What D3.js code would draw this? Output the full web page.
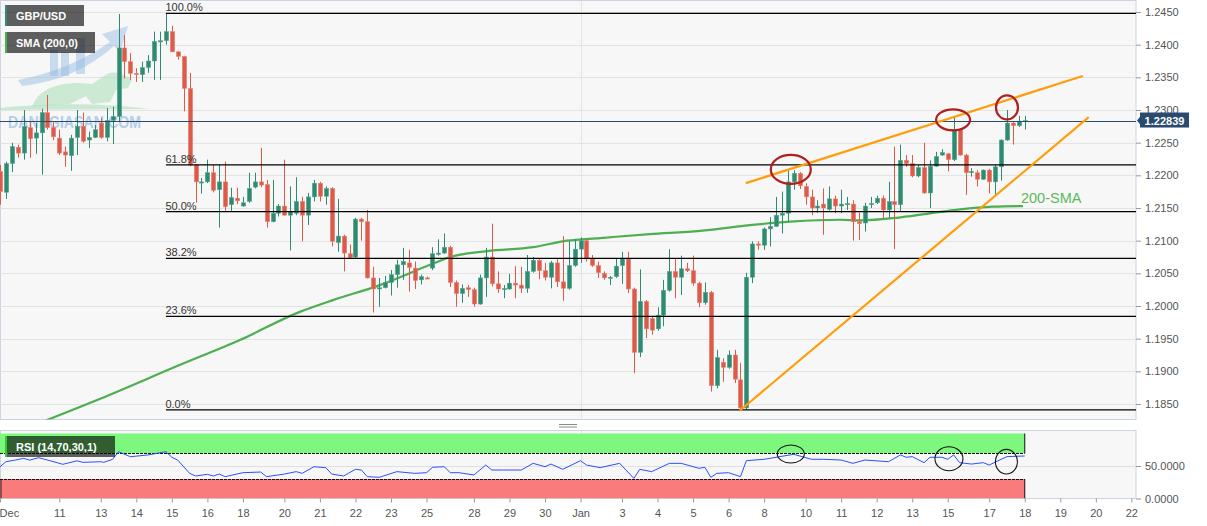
<!DOCTYPE html>
<html><head><meta charset="utf-8">
<script src="https://cdn.jsdelivr.net/npm/d3@7"></script>
<style>
html,body{margin:0;padding:0;background:#fff;}
svg{display:block;font-family:Arial,"Liberation Sans",sans-serif;}
</style></head><body>
<svg id="c" width="1207" height="526"></svg>
<script>
// ---------------- DATA ----------------
const firstIndex = -10; // candle index of first candle (4h candles, index 0 = Dec 11 tick)
const opens = [
1.2206,1.2174,1.2218,1.2243,1.2234,1.2273,1.2257,1.2265,1.2296,1.2273,
1.2257,1.2236,1.2230,1.2258,1.2275,1.2254,1.2258,1.2280,1.2258,1.2284,
1.2290,1.2395,1.2374,1.2356,1.2354,1.2365,1.2375,1.2405,1.2406,1.2420,
1.2389,1.2382,1.2333,1.2216,1.2189,1.2190,1.2204,1.2178,1.2190,1.2155,
1.2165,1.2153,1.2160,1.2182,1.2190,1.2186,1.2129,1.2142,1.2153,1.2139,
1.2142,1.2160,1.2139,1.2167,1.2188,1.2168,1.2180,1.2097,1.2107,1.2080,
1.2075,1.2133,1.2129,1.2043,1.2026,1.2028,1.2036,1.2048,1.2063,1.2066,
1.2058,1.2040,1.2043,1.2058,1.2079,1.2081,1.2090,1.2036,1.2019,1.2028,
1.2025,1.2003,1.2043,1.2075,1.2034,1.2025,1.2026,1.2035,1.2032,1.2027,
1.2053,1.2070,1.2054,1.2044,1.2066,1.2037,1.2027,1.2062,1.2087,1.2100,
1.2072,1.2062,1.2050,1.2043,1.2045,1.2062,1.2072,1.2026,1.1929,1.2007,
1.1981,1.1965,1.1986,1.2024,1.2053,1.2044,1.2057,1.2054,1.2035,1.2005,
1.2021,1.1878,1.1914,1.1906,1.1925,1.1887,1.1844,1.2044,1.2095,1.2093,
1.2118,1.2122,1.2139,1.2142,1.2190,1.2203,1.2183,1.2167,1.2150,1.2156,
1.2148,1.2164,1.2153,1.2155,1.2156,1.2129,1.2127,1.2155,1.2158,1.2165,
1.2147,1.2160,1.2155,1.2223,1.2218,1.2199,1.2212,1.2173,1.2214,1.2231,
1.2233,1.2224,1.2270,1.2231,1.2204,1.2204,1.2194,1.2208,1.2190,1.2213,
1.2254,1.2280,1.2276,1.2282];
const highs = [
1.2216,1.2221,1.2250,1.2247,1.2300,1.2283,1.2280,1.2302,1.2323,1.2282,
1.2270,1.2244,1.2262,1.2300,1.2296,1.2267,1.2277,1.2288,1.2303,1.2305,
1.2447,1.2415,1.2387,1.2364,1.2374,1.2384,1.2420,1.2420,1.2448,1.2429,
1.2390,1.2383,1.2357,1.2216,1.2196,1.2224,1.2216,1.2216,1.2221,1.2181,
1.2181,1.2167,1.2204,1.2204,1.2242,1.2193,1.2193,1.2156,1.2224,1.2183,
1.2197,1.2167,1.2173,1.2193,1.2190,1.2183,1.2182,1.2164,1.2109,1.2094,
1.2135,1.2135,1.2147,1.2060,1.2043,1.2046,1.2055,1.2071,1.2089,1.2086,
1.2068,1.2048,1.2045,1.2090,1.2102,1.2111,1.2092,1.2039,1.2033,1.2032,
1.2028,1.2048,1.2089,1.2126,1.2053,1.2032,1.2049,1.2061,1.2060,1.2078,
1.2075,1.2072,1.2066,1.2069,1.2073,1.2107,1.2099,1.2102,1.2105,1.2102,
1.2078,1.2068,1.2053,1.2046,1.2073,1.2083,1.2083,1.2028,1.2056,1.2009,
1.1983,1.1998,1.2040,1.2087,1.2072,1.2077,1.2066,1.2077,1.2037,1.2036,
1.2023,1.1933,1.1920,1.1932,1.1933,1.1913,1.2051,1.2099,1.2099,1.2120,
1.2136,1.2167,1.2175,1.2207,1.2208,1.2205,1.2188,1.2178,1.2162,1.2180,
1.2183,1.2169,1.2178,1.2167,1.2162,1.2143,1.2158,1.2167,1.2169,1.2169,
1.2190,1.2244,1.2247,1.2231,1.2231,1.2216,1.2250,1.2223,1.2236,1.2240,
1.2234,1.2289,1.2271,1.2233,1.2211,1.2208,1.2209,1.2210,1.2216,1.2255,
1.2300,1.2282,1.2291,1.2291];
const lows = [
1.2155,1.2164,1.2205,1.2227,1.2224,1.2227,1.2233,1.2201,1.2270,1.2254,
1.2231,1.2213,1.2207,1.2231,1.2250,1.2242,1.2257,1.2256,1.2252,1.2248,
1.2282,1.2348,1.2346,1.2343,1.2343,1.2357,1.2346,1.2346,1.2400,1.2389,
1.2377,1.2298,1.2214,1.2158,1.2172,1.2188,1.2174,1.2120,1.2146,1.2145,
1.2156,1.2152,1.2158,1.2180,1.2182,1.2120,1.2128,1.2137,1.2138,1.2085,
1.2139,1.2099,1.2124,1.2160,1.2160,1.2155,1.2091,1.2083,1.2053,1.2073,
1.2073,1.2100,1.2042,1.1990,1.1999,1.2027,1.2016,1.2028,1.2040,1.2022,
1.2026,1.2033,1.2042,1.2055,1.2077,1.2080,1.2029,1.1999,1.2005,1.2014,
1.1999,1.2002,1.2014,1.2030,1.2020,1.2012,1.2025,1.2012,1.2020,1.2020,
1.2051,1.2041,1.2039,1.2027,1.2029,1.2008,1.2025,1.2060,1.2066,1.2068,
1.2060,1.2043,1.2040,1.2032,1.2043,1.2034,1.2020,1.1897,1.1922,1.1951,
1.1956,1.1962,1.1969,1.2022,1.2012,1.2017,1.2052,1.2031,1.1998,1.2002,
1.1869,1.1874,1.1884,1.1904,1.1882,1.1841,1.1841,1.2035,1.2086,1.2086,
1.2091,1.2121,1.2111,1.2129,1.2178,1.2179,1.2155,1.2139,1.2143,1.2109,
1.2146,1.2142,1.2142,1.2147,1.2100,1.2101,1.2114,1.2150,1.2156,1.2133,
1.2134,1.2087,1.2145,1.2213,1.2197,1.2197,1.2172,1.2150,1.2213,1.2230,
1.2206,1.2222,1.2230,1.2170,1.2198,1.2183,1.2193,1.2172,1.2169,1.2192,
1.2253,1.2247,1.2274,1.2270];
const closes = [
1.2175,1.2218,1.2244,1.2234,1.2275,1.2256,1.2265,1.2296,1.2273,1.2259,
1.2234,1.2231,1.2257,1.2275,1.2252,1.2258,1.2270,1.2258,1.2284,1.2290,
1.2395,1.2374,1.2356,1.2354,1.2365,1.2375,1.2405,1.2406,1.2420,1.2389,
1.2382,1.2333,1.2216,1.2190,1.2190,1.2204,1.2177,1.2190,1.2152,1.2166,
1.2161,1.2158,1.2180,1.2190,1.2185,1.2129,1.2142,1.2153,1.2139,1.2145,
1.2160,1.2139,1.2167,1.2188,1.2168,1.2180,1.2099,1.2107,1.2081,1.2074,
1.2133,1.2129,1.2043,1.2026,1.2028,1.2036,1.2048,1.2063,1.2068,1.2059,
1.2039,1.2045,1.2042,1.2080,1.2081,1.2090,1.2036,1.2019,1.2027,1.2025,
1.2003,1.2043,1.2075,1.2034,1.2026,1.2027,1.2035,1.2032,1.2027,1.2053,
1.2070,1.2054,1.2044,1.2066,1.2037,1.2027,1.2062,1.2087,1.2100,1.2072,
1.2062,1.2051,1.2043,1.2044,1.2061,1.2072,1.2026,1.1929,1.2007,1.1965,
1.1963,1.1986,1.2024,1.2053,1.2044,1.2057,1.2054,1.2035,1.2005,1.2021,
1.1878,1.1921,1.1906,1.1925,1.1888,1.1844,1.2044,1.2095,1.2093,1.2118,
1.2122,1.2139,1.2142,1.2190,1.2203,1.2184,1.2167,1.2150,1.2153,1.2150,
1.2164,1.2153,1.2156,1.2157,1.2129,1.2126,1.2153,1.2157,1.2165,1.2147,
1.2160,1.2155,1.2223,1.2218,1.2199,1.2212,1.2173,1.2214,1.2229,1.2235,
1.2224,1.2270,1.2231,1.2204,1.2206,1.2194,1.2208,1.2190,1.2213,1.2254,
1.2280,1.2276,1.2283,1.22839];

// 200-period SMA, sampled points [candle index, value]
const smaIdx = [-5,6.9,20.4,30.5,40.6,46.2,54.1,62.6,66,72.2,80,85.7,91.3,99.7,108.2,115.8,123.4,131.8,135.2,141.4,146.4,152.1,157.6,162.7];
const smaVal = [1.1815,1.1858,1.1910,1.1948,1.1991,1.2009,1.2032,1.2063,1.2075,1.2084,1.2090,1.2100,1.2104,1.2110,1.2115,1.2123,1.2129,1.2132,1.2131,1.2135,1.2141,1.2148,1.2152,1.2153];

// RSI(14) sampled points
const rsiIdx = [-10,-9,-7.4,-6,-5,-3.5,-1.6,0.6,3,4,7,7.5,9,10,12,15,18,19,20,22,23,25,26,27,28,31,34,35,38,40,41,43,45,46,48,50,51,52,54,57,60,62,63,65,66,67.5,70,72,73,75,78,80,82,83,85,88,89,91.3,94.6,97,98,100,103,105,108,109,110,111,113,115,116,119,121,124,127,129,132,134,136,140,142,143,144,146,147,149,150,151,152,154,156,157,159,160,163];
const rsiVal = [48.9,56.6,59.2,61.8,59,62.8,58.2,52.6,58,55.6,56.6,55.6,60.3,72,64.3,67,72,63.4,59,38.7,34.6,37.2,34.6,37.6,33.6,39.7,40.7,33.6,37.6,41.3,38.7,48.9,47.4,37.6,34.6,44.9,43.8,33.6,32.6,41.3,38.7,39.7,48,48.9,39.7,39.7,36.2,51.5,43.8,43.8,43.8,54.1,48.9,53,44.9,58.2,51.5,47.5,54.1,31,44.9,41.3,54.1,54.1,46.4,48,32.6,38.7,39.7,33.6,58.2,60.3,63.4,68,60.3,60.3,59.2,54.1,59.2,56.6,67,63.4,64.4,55.1,63.4,63.4,60.3,67,55.1,53,55.1,51.5,60.3,64.4,65.4];

// x-axis ticks (candle index -> label)
const xTickIdx = [-10,0,7,13,19,25,31,38,44,50,56,62,70,76,82,88,95,101,107,113,119,126,132,138,144,150,157,163,169,175,181];
const xTickLbl = ["Dec","11","13","14","15","16","18","20","21","22","23","25","28","29","30","Jan","3","4","5","6","8","10","11","12","13","15","17","18","19","20","22"];
const priceTicks = d3.range(0,13).map(k => +(1.1850 + k*0.005).toFixed(4));
const rsiTicks = [0,50];

// Fibonacci ratios
const fibRatios = [1,0.618,0.5,0.382,0.236,0];
const fibLabels = ["100.0%","61.8%","50.0%","38.2%","23.6%","0.0%"];

// trend lines: [index, price]
const upperTrend = [[115.9,1.2188],[172.8,1.2352]];
const lowerTrend = [[114.9,1.1840],[173.8,1.2289]];
// highlighted swing points
const redMarksIdx = [123.5,150.9,160];
const redMarksPrice = [1.2209,1.2285,1.2304];
const rsiMarksIdx = [123.5,150.2,159.9];
const rsiMarksVal = [68.5,61.2,56.6];
const rsiBands = [[70,100],[0,30]];
const lastPrice = 1.22839;

// ---------------- LAYOUT / STYLE ----------------
const plotW = 1136;
const mainTop = 0.5, mainBot = 419.5, rsiTop = 430.5, rsiBot = 498.5;
const GREEN = "#2e8a71", RED = "#dc5a48";
const svg = d3.select("#c");

const x = d3.scaleLinear().domain([-10.012, 181.78]).range([0, plotW]);
const y = d3.scaleLinear().domain([1.1850, 1.2450]).range([404, 12]);
const yr = d3.scaleLinear().domain([0, 100]).range([498.5, 433.5]);

const defs = svg.append("defs");
defs.append("clipPath").attr("id","clipMain").append("rect").attr("x",0).attr("y",mainTop).attr("width",plotW).attr("height",mainBot-mainTop);
defs.append("clipPath").attr("id","clipRsi").append("rect").attr("x",0).attr("y",rsiTop).attr("width",plotW).attr("height",rsiBot-rsiTop);

// panels
svg.append("rect").attr("x",0.5).attr("y",mainTop).attr("width",plotW-0.5).attr("height",mainBot-mainTop).attr("fill","#f7f7f7").attr("stroke","#cdd3e1");
svg.append("rect").attr("x",0.5).attr("y",rsiTop).attr("width",plotW-0.5).attr("height",rsiBot-rsiTop).attr("fill","#f7f7f7").attr("stroke","#cdd3e1");

// drag handle
[424.5,427].forEach(v=>svg.append("line").attr("x1",559).attr("x2",577).attr("y1",v).attr("y2",v).attr("stroke","#8a8a8a").attr("stroke-width",1));

const gMain = svg.append("g").attr("clip-path","url(#clipMain)");
// horizontal grid
gMain.selectAll("line.grid").data(priceTicks).enter().append("line")
  .attr("x1",0).attr("x2",plotW).attr("y1",d=>Math.round(y(d))+0.5).attr("y2",d=>Math.round(y(d))+0.5)
  .attr("stroke","#e3e3e3");
// Jan separator
const janIdx = xTickIdx[xTickLbl.indexOf("Jan")];
gMain.append("line").attr("x1",Math.round(x(janIdx))+0.5).attr("x2",Math.round(x(janIdx))+0.5).attr("y1",mainTop).attr("y2",mainBot).attr("stroke","#e3e3e3");

// watermark
const wm = gMain.append("g");
wm.append("path").attr("d","M0,108 Q80,100 150,109 L0,110 Z").attr("fill","#9fdcae").attr("opacity",0.5);
wm.append("path").attr("d","M32,107 C38,88 62,80 92,84 L104,76 C112,70 122,72 132,80 L128,88 L116,90 L110,102 L92,104 L86,96 L70,104 Z").attr("fill","#a9dfb6").attr("opacity",0.55);
wm.append("path").attr("d","M18,80 Q70,70 110,42 L102,34 L128,26 L120,52 L114,46 Q76,80 22,86 Z").attr("fill","#8fb8e2").attr("opacity",0.45);
[[50,50,8,26],[61,52,8,24],[76,38,9,36]].forEach(r=>wm.append("rect").attr("x",r[0]).attr("y",r[1]).attr("width",r[2]).attr("height",r[3]).attr("fill","#8fb8e2").attr("opacity",0.45));
wm.append("text").attr("x",8).attr("y",128).attr("font-size",17).attr("font-weight","bold")
  .attr("textLength",133).attr("lengthAdjust","spacingAndGlyphs").attr("fill","#9fc1e6").attr("opacity",0.75).text("DANHGIASAN.COM");

// SMA
const smaPts = smaIdx.map((d,k)=>[d,smaVal[k]]);
gMain.append("path").datum(smaPts).attr("fill","none").attr("stroke","#4caf50").attr("stroke-width",2.2)
  .attr("d", d3.line().x(d=>x(d[0])).y(d=>y(d[1])).curve(d3.curveMonotoneX));

// candles
const candles = opens.map((o,k)=>({i:firstIndex+k,o,h:highs[k],l:lows[k],c:closes[k]}));
const bw = 4.4;
const cg = gMain.append("g");
cg.selectAll("line.wick").data(candles).enter().append("line")
  .attr("x1",d=>Math.round(x(d.i))+0.5).attr("x2",d=>Math.round(x(d.i))+0.5)
  .attr("y1",d=>y(d.h)).attr("y2",d=>y(d.l))
  .attr("stroke",d=>d.c>=d.o?GREEN:RED).attr("stroke-width",1);
cg.selectAll("rect.body").data(candles).enter().append("rect")
  .attr("x",d=>Math.round(x(d.i))+0.5-bw/2).attr("width",bw)
  .attr("y",d=>y(Math.max(d.o,d.c)))
  .attr("height",d=>Math.max(1.2, Math.abs(y(d.o)-y(d.c))))
  .attr("fill",d=>d.c>=d.o?GREEN:RED)
  .attr("stroke",d=>d.c>=d.o?"#5aa894":"#e88a7d").attr("stroke-width",0.5);

// fibonacci
const fibHigh = d3.max(highs), fibLow = d3.min(lows);
const fibStart = x(firstIndex + d3.maxIndex(highs));
fibRatios.forEach((r,k)=>{
  const lv = fibLow + r*(fibHigh-fibLow);
  const yy = y(lv);
  gMain.append("line").attr("x1",fibStart).attr("x2",plotW).attr("y1",yy).attr("y2",yy).attr("stroke","#000").attr("stroke-width",1.2);
  gMain.append("text").attr("x",fibStart-0.5).attr("y",yy-2).attr("font-size",11).attr("fill","#333").text(fibLabels[k]);
});

// current price line
gMain.append("line").attr("x1",0).attr("x2",plotW).attr("y1",Math.round(y(lastPrice))+0.5).attr("y2",Math.round(y(lastPrice))+0.5).attr("stroke","#2b4a70").attr("stroke-width",1);

// trend lines
const tl = d3.line().x(d=>x(d[0])).y(d=>y(d[1]));
[upperTrend,lowerTrend].forEach(t=>gMain.append("path").datum(t).attr("d",tl).attr("stroke","#ff9d0a").attr("stroke-width",2.2).attr("fill","none"));

// red ellipses
const redR = [[20,14.5],[17,10.5],[11,12]];
redMarksIdx.forEach((d,k)=>gMain.append("ellipse").attr("cx",x(d)).attr("cy",y(redMarksPrice[k]))
  .attr("rx",redR[k][0]).attr("ry",redR[k][1]).attr("fill","none").attr("stroke","#b01e1e").attr("stroke-width",2.2));

// 200-SMA label
gMain.append("text").attr("x",x(d3.max(smaIdx))-2).attr("y",y(smaVal[smaVal.length-1])-3.5).attr("font-size",14.5).attr("fill","#5cb85c").text("200-SMA");

// legends
function legend(gx,gy,w,h,stripe,label){
  const g = svg.append("g");
  g.append("rect").attr("x",gx).attr("y",gy).attr("width",w).attr("height",h).attr("fill","rgba(0,0,0,0.62)");
  g.append("rect").attr("x",gx).attr("y",gy).attr("width",2).attr("height",h).attr("fill",stripe);
  g.append("text").attr("x",gx+11).attr("y",gy+h/2+4).attr("font-size",11).attr("font-weight","bold").attr("fill","#fff").text(label);
}
legend(5,5,79,21,"#2e8b7a","GBP/USD");
legend(5,32,90,21,"#43b649","SMA (200,0)");

// right price axis
const ax = svg.append("g").attr("transform",`translate(${plotW},0)`)
  .call(d3.axisRight(y).tickValues(priceTicks).tickFormat(d3.format(".4f")).tickSize(5).tickPadding(4));
ax.select(".domain").remove();
ax.selectAll("line").attr("stroke","#999");
ax.selectAll("text").attr("fill","#555").attr("font-size",11).attr("font-family","Arial, 'Liberation Sans', sans-serif");

// price label
const py = y(lastPrice);
svg.append("path").attr("d",`M${plotW+1},${py} L${plotW+5},${py-5} L${plotW+5},${py+5} Z`).attr("fill","#2b4a70");
svg.append("rect").attr("x",plotW+4).attr("y",py-8).attr("width",49).attr("height",15).attr("fill","#2b4a70");
svg.append("text").attr("x",plotW+28.5).attr("y",py+4).attr("text-anchor","middle").attr("font-size",11).attr("font-weight","bold").attr("fill","#fff").text(d3.format(".5f")(lastPrice));

// ---------------- RSI panel ----------------
const gR = svg.append("g").attr("clip-path","url(#clipRsi)");
const bandEnd = x(firstIndex + opens.length - 1);
gR.append("line").attr("x1",0).attr("x2",plotW).attr("y1",Math.round(yr(50))+0.5).attr("y2",Math.round(yr(50))+0.5).attr("stroke","#e0e0e0");
gR.append("line").attr("x1",Math.round(x(janIdx))+0.5).attr("x2",Math.round(x(janIdx))+0.5).attr("y1",rsiTop).attr("y2",rsiBot).attr("stroke","#e3e3e3");
const bandCol = ["#7ef77e","#f97b7b"];
rsiBands.forEach((b,k)=>{
  gR.append("rect").attr("x",0).attr("width",bandEnd).attr("y",yr(b[1])).attr("height",yr(b[0])-yr(b[1])).attr("fill",bandCol[k]);
  gR.append("line").attr("x1",bandEnd).attr("x2",bandEnd).attr("y1",yr(b[1])).attr("y2",yr(b[0])).attr("stroke","#111");
});
gR.append("line").attr("x1",1).attr("x2",1).attr("y1",yr(30)).attr("y2",yr(0)).attr("stroke","#222");
[70,30].forEach(v=>gR.append("line").attr("x1",0).attr("x2",bandEnd).attr("y1",Math.round(yr(v))+0.5).attr("y2",Math.round(yr(v))+0.5).attr("stroke","#111").attr("stroke-dasharray","3,1"));
const rsiPts = rsiIdx.map((d,k)=>[d,rsiVal[k]]);
gR.append("path").datum(rsiPts).attr("fill","none").attr("stroke","#2f4dff").attr("stroke-width",1)
  .attr("d",d3.line().x(d=>x(d[0])).y(d=>yr(d[1])));
const rsiR = [[13.5,9],[14,12],[11,12.3]];
rsiMarksIdx.forEach((d,k)=>gR.append("ellipse").attr("cx",x(d)).attr("cy",yr(rsiMarksVal[k])).attr("rx",rsiR[k][0]).attr("ry",rsiR[k][1]).attr("fill","none").attr("stroke","#111").attr("stroke-width",1.1));
// RSI legend
const rl = svg.append("g");
rl.append("rect").attr("x",5).attr("y",436).attr("width",110).attr("height",21).attr("fill","rgba(0,0,0,0.62)");
rl.append("rect").attr("x",5).attr("y",436).attr("width",2).attr("height",21).attr("fill","#2ccd2c");
rl.append("text").attr("x",16).attr("y",450.5).attr("font-size",11).attr("font-weight","bold").attr("fill","#fff").text("RSI (14,70,30,1)");

const axr = svg.append("g").attr("transform",`translate(${plotW},0)`)
  .call(d3.axisRight(yr).tickValues(rsiTicks).tickFormat(d3.format(".4f")).tickSize(5).tickPadding(4));
axr.select(".domain").remove();
axr.selectAll("line").attr("stroke","#999");
axr.selectAll("text").attr("fill","#555").attr("font-size",11).attr("font-family","Arial, 'Liberation Sans', sans-serif");

// bottom x axis
const axb = svg.append("g").attr("transform",`translate(0,${rsiBot})`)
  .call(d3.axisBottom(x).tickValues(xTickIdx).tickFormat((d,k)=>xTickLbl[k]).tickSize(4).tickPadding(7));
axb.select(".domain").remove();
axb.selectAll("line").attr("stroke","#999");
axb.selectAll("text").attr("fill","#555").attr("font-size",11).attr("font-family","Arial, 'Liberation Sans', sans-serif");
axb.selectAll("text").filter((d,k)=>k===0).attr("text-anchor","start").attr("x",-1);
</script>
</body></html>
